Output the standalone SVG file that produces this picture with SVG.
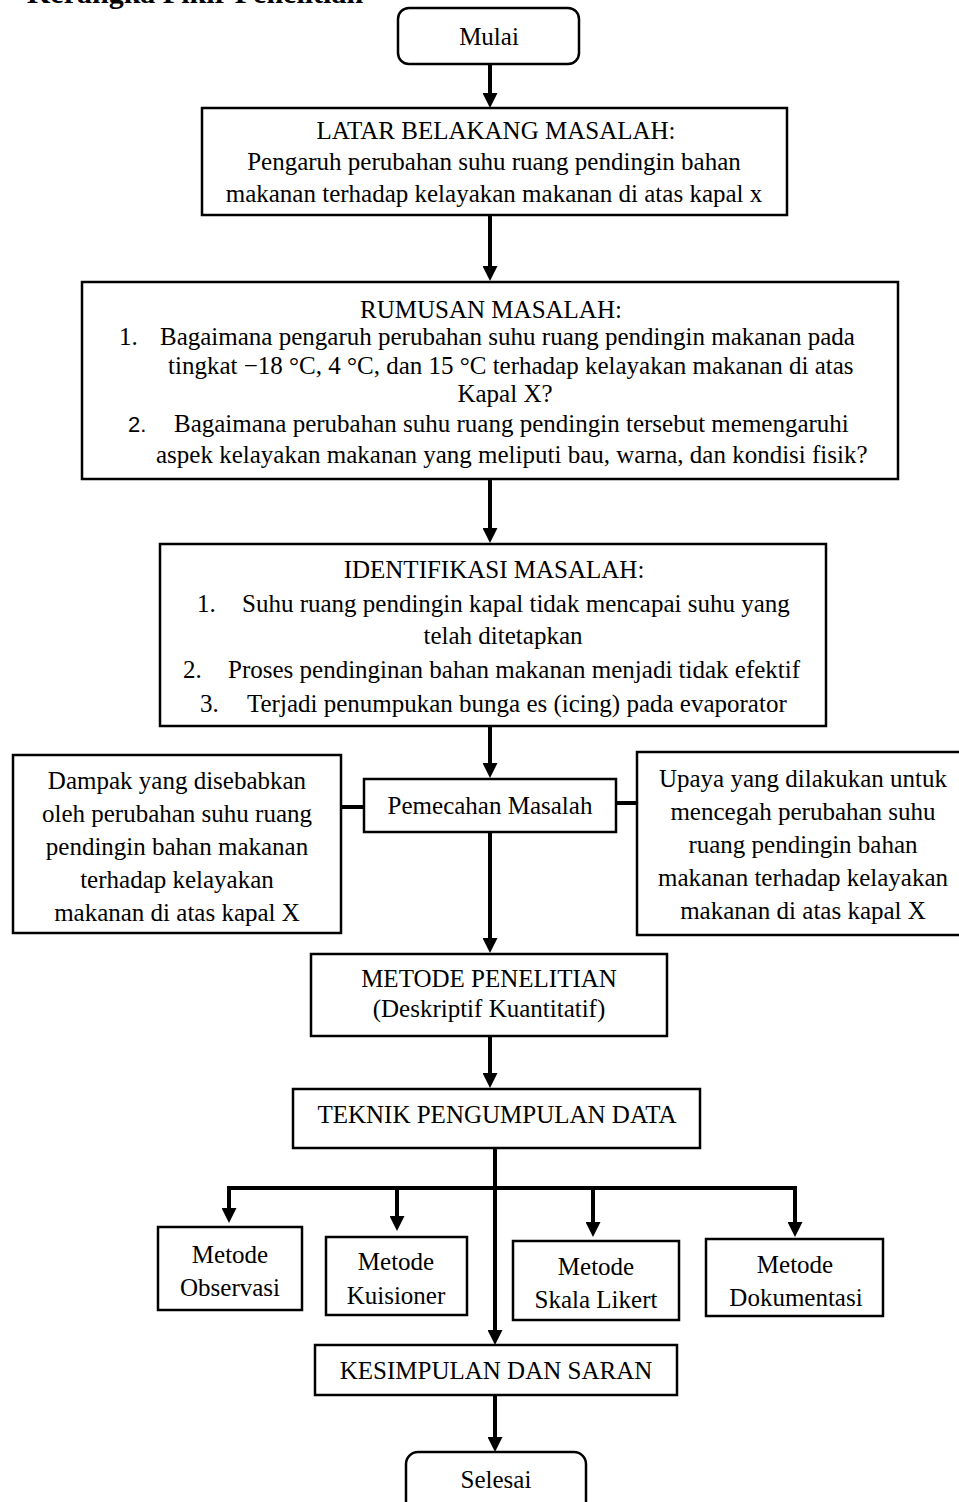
<svg xmlns="http://www.w3.org/2000/svg" width="959" height="1502" viewBox="0 0 959 1502">
<style>
.bg{fill:#fff}
.box{fill:#fff;stroke:#000;stroke-width:2.5}
.t{font-family:"Liberation Serif","Times New Roman",serif;font-size:25px;fill:#000}
.c{text-anchor:middle}
.s{font-family:"Liberation Sans",Arial,sans-serif;font-size:22px;fill:#000}
.ttl{font-family:"Liberation Serif","Times New Roman",serif;font-size:30px;font-weight:bold;fill:#000}
.ln{fill:none;stroke:#000;stroke-width:4}
.ar{fill:none;stroke:#000;stroke-width:4;marker-end:url(#ah)}
</style>
<defs>
<marker id="ah" markerUnits="userSpaceOnUse" markerWidth="15" markerHeight="15" refX="7" refY="7.5" orient="auto" viewBox="0 0 15 15">
<path d="M0,0 L15,7.5 L0,15 z" fill="#000"/>
</marker>
</defs>
<rect class="bg" x="0" y="0" width="959" height="1502"/>
<text class="ttl" x="27" y="3">Kerangka Pikir Penelitian</text>

<g id="connectors">
<line class="ar" x1="490" y1="64" x2="490" y2="100"/>
<line class="ar" x1="490" y1="215" x2="490" y2="273"/>
<line class="ar" x1="490" y1="479" x2="490" y2="535"/>
<line class="ar" x1="490" y1="726" x2="490" y2="770"/>
<line class="ar" x1="490" y1="832" x2="490" y2="945"/>
<line class="ar" x1="490" y1="1036" x2="490" y2="1080"/>
<line class="ar" x1="495" y1="1148" x2="495" y2="1337"/>
<line class="ln" x1="227" y1="1188" x2="797" y2="1188"/>
<line class="ar" x1="229" y1="1186" x2="229" y2="1215"/>
<line class="ar" x1="397" y1="1186" x2="397" y2="1223"/>
<line class="ar" x1="593" y1="1186" x2="593" y2="1229"/>
<line class="ar" x1="795" y1="1186" x2="795" y2="1229"/>
<line class="ar" x1="495" y1="1395" x2="495" y2="1444"/>
<line class="ln" x1="341" y1="807" x2="364" y2="807"/>
<line class="ln" x1="616" y1="803" x2="637" y2="803"/>
</g>

<g id="mulai">
<rect class="box" x="398" y="8" width="181" height="56" rx="11"/>
<text class="t c" x="489" y="45">Mulai</text>
</g>

<g id="latar">
<rect class="box" x="202" y="108" width="585" height="107"/>
<text class="t c" x="496" y="139">LATAR BELAKANG MASALAH:</text>
<text class="t c" x="494" y="170">Pengaruh perubahan suhu ruang pendingin bahan</text>
<text class="t c" x="494" y="202">makanan terhadap kelayakan makanan di atas kapal x</text>
</g>

<g id="rumusan">
<rect class="box" x="82" y="282" width="816" height="197"/>
<text class="t c" x="491" y="318">RUMUSAN MASALAH:</text>
<text class="t" x="119" y="345">1.</text>
<text class="t" x="160" y="345">Bagaimana pengaruh perubahan suhu ruang pendingin makanan pada</text>
<text class="t" x="168" y="374">tingkat −18 °C, 4 °C, dan 15 °C terhadap kelayakan makanan di atas</text>
<text class="t c" x="505" y="402">Kapal X?</text>
<text class="s" x="128" y="432">2.</text>
<text class="t" x="174" y="432">Bagaimana perubahan suhu ruang pendingin tersebut memengaruhi</text>
<text class="t" x="156" y="463">aspek kelayakan makanan yang meliputi bau, warna, dan kondisi fisik?</text>
</g>

<g id="identifikasi">
<rect class="box" x="160" y="544" width="666" height="182"/>
<text class="t c" x="494" y="578">IDENTIFIKASI MASALAH:</text>
<text class="t" x="197" y="612">1.</text>
<text class="t" x="242" y="612">Suhu ruang pendingin kapal tidak mencapai suhu yang</text>
<text class="t c" x="503" y="644">telah ditetapkan</text>
<text class="t" x="183" y="678">2.</text>
<text class="t" x="228" y="678">Proses pendinginan bahan makanan menjadi tidak efektif</text>
<text class="t" x="200" y="712">3.</text>
<text class="t" x="247" y="712">Terjadi penumpukan bunga es (icing) pada evaporator</text>
</g>

<g id="pemecahan">
<rect class="box" x="364" y="779" width="252" height="53"/>
<text class="t c" x="490" y="814">Pemecahan Masalah</text>
</g>

<g id="dampak">
<rect class="box" x="13" y="755" width="328" height="178"/>
<text class="t c" x="177" y="789">Dampak yang disebabkan</text>
<text class="t c" x="177" y="822">oleh perubahan suhu ruang</text>
<text class="t c" x="177" y="855">pendingin bahan makanan</text>
<text class="t c" x="177" y="888">terhadap kelayakan</text>
<text class="t c" x="177" y="921">makanan di atas kapal X</text>
</g>

<g id="upaya">
<rect class="box" x="637" y="752" width="325" height="183"/>
<text class="t c" x="803" y="787">Upaya yang dilakukan untuk</text>
<text class="t c" x="803" y="820">mencegah perubahan suhu</text>
<text class="t c" x="803" y="853">ruang pendingin bahan</text>
<text class="t c" x="803" y="886">makanan terhadap kelayakan</text>
<text class="t c" x="803" y="919">makanan di atas kapal X</text>
</g>

<g id="metode-penelitian">
<rect class="box" x="311" y="954" width="356" height="82"/>
<text class="t c" x="489" y="987">METODE PENELITIAN</text>
<text class="t c" x="489" y="1017">(Deskriptif Kuantitatif)</text>
</g>

<g id="teknik">
<rect class="box" x="293" y="1089" width="407" height="59"/>
<text class="t c" x="497" y="1123">TEKNIK PENGUMPULAN DATA</text>
</g>

<g id="observasi">
<rect class="box" x="158" y="1227" width="144" height="83"/>
<text class="t c" x="230" y="1263">Metode</text>
<text class="t c" x="230" y="1296">Observasi</text>
</g>

<g id="kuisioner">
<rect class="box" x="326" y="1237" width="141" height="78"/>
<text class="t c" x="396" y="1270">Metode</text>
<text class="t c" x="396" y="1304">Kuisioner</text>
</g>

<g id="likert">
<rect class="box" x="513" y="1241" width="166" height="79"/>
<text class="t c" x="596" y="1275">Metode</text>
<text class="t c" x="596" y="1308">Skala Likert</text>
</g>

<g id="dokumentasi">
<rect class="box" x="706" y="1239" width="177" height="77"/>
<text class="t c" x="795" y="1273">Metode</text>
<text class="t c" x="796" y="1306">Dokumentasi</text>
</g>

<g id="kesimpulan">
<rect class="box" x="315" y="1345" width="362" height="50"/>
<text class="t c" x="496" y="1379">KESIMPULAN DAN SARAN</text>
</g>

<g id="selesai">
<rect class="box" x="406" y="1452" width="180" height="70" rx="12"/>
<text class="t c" x="496" y="1488">Selesai</text>
</g>
</svg>
